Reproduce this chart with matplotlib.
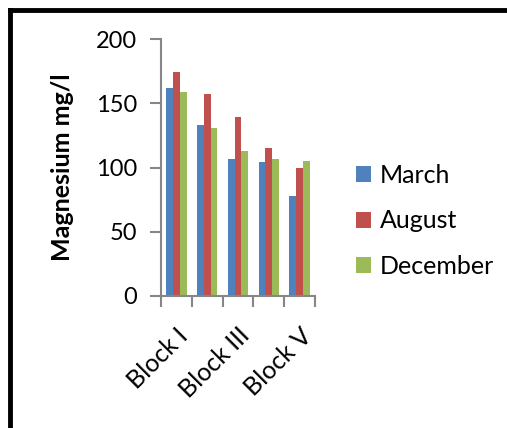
import matplotlib
matplotlib.use("Agg")
import matplotlib.pyplot as plt
import numpy as np
from matplotlib.lines import Line2D
from matplotlib.patches import Patch

categories = ["Block I", "Block II", "Block III", "Block IV", "Block V"]
march = [162, 133, 107, 104, 78]
august = [174, 157, 139, 115, 100]
december = [159, 131, 113, 107, 105]
series_names = ["March", "August", "December"]
colors = ["#4F81BD", "#C0504D", "#9BBB59"]

plt.rcParams['font.family'] = ['Lato', 'DejaVu Sans']

fig = plt.figure(figsize=(5.07, 4.28), dpi=100)
ax = fig.add_axes([161/507, 132/428, (315-161)/507, (296-39)/428])

x = np.arange(len(categories))
w = 0.22
for i, (vals, c) in enumerate(zip([march, august, december], colors)):
    ax.bar(x + (i - 1) * w, vals, width=w, color=c, label=series_names[i])

ax.set_xlim(-0.5, len(categories) - 0.5)
ax.set_ylim(0, 200)
ax.set_yticks([0, 50, 100, 150, 200])
ax.tick_params(axis='y', labelsize=17, length=8, width=1.5, color='#868686', pad=9, direction='out')

# category boundary ticks
ax.set_xticks(np.arange(len(categories) + 1) - 0.5)
ax.set_xticklabels([])
ax.tick_params(axis='x', length=8, width=1.5, color='#868686', direction='out')
# labels for every second category
ax.set_xticks(x[::2], minor=True)
ax.set_xticklabels([categories[i] for i in x[::2]], minor=True, rotation=45,
                   ha='right', rotation_mode='anchor', fontsize=18)
ax.tick_params(axis='x', which='minor', length=0, pad=20)

for s in ['top', 'right']:
    ax.spines[s].set_visible(False)
for s in ['left', 'bottom']:
    ax.spines[s].set_color('#868686')
    ax.spines[s].set_linewidth(1.5)

ax.set_ylabel("Magnesium mg/l", fontsize=18, fontweight='bold', labelpad=16)

handles = [Patch(facecolor=c, edgecolor='none') for c in colors]
fig.legend(handles, series_names, loc='center left', bbox_to_anchor=(356/507, 1 - 221/428),
           frameon=False, fontsize=18, handlelength=0.6, handleheight=0.6,
           handletextpad=0.35, labelspacing=0.9, borderaxespad=0, borderpad=0)

# outer frame (left and top edges)
fig.add_artist(Line2D([10/507, 10/507], [0, 1 - 10/428], transform=fig.transFigure, color='black', lw=3.5))
fig.add_artist(Line2D([10/507, 1], [1 - 10/428, 1 - 10/428], transform=fig.transFigure, color='black', lw=3.5))

fig.savefig("out.png", dpi=100)
